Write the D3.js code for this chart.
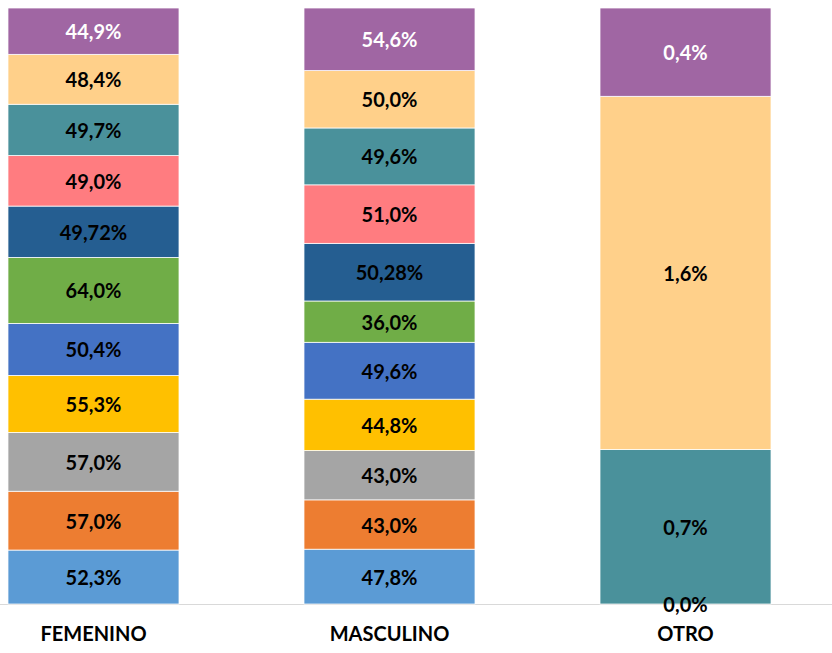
<!DOCTYPE html>
<html>
<head>
<meta charset="utf-8">
<script src="https://cdn.jsdelivr.net/npm/d3@7"></script>
<style>
  body { margin: 0; background: #fff; }
  #chart text { font-family: Lato, "Liberation Sans", sans-serif; font-weight: bold; }
</style>
</head>
<body>
<div id="chart"></div>
<script>
// Categories and series (bottom to top)
const categories = ["FEMENINO", "MASCULINO", "OTRO"];
const seriesNames = ["s1", "s2", "s3", "s4", "s5", "s6", "s7", "s8", "s9", "s10", "s11"];
const femenino = [52.3, 57.0, 57.0, 55.3, 50.4, 64.0, 49.72, 49.0, 49.7, 48.4, 44.9];
const masculino = [47.8, 43.0, 43.0, 44.8, 49.6, 36.0, 50.28, 51.0, 49.6, 50.0, 54.6];
const otro = [0.0, null, null, null, null, null, null, null, 0.7, 1.6, 0.4];
const labelText = [
  ["52,3%", "57,0%", "57,0%", "55,3%", "50,4%", "64,0%", "49,72%", "49,0%", "49,7%", "48,4%", "44,9%"],
  ["47,8%", "43,0%", "43,0%", "44,8%", "49,6%", "36,0%", "50,28%", "51,0%", "49,6%", "50,0%", "54,6%"],
  ["0,0%", null, null, null, null, null, null, null, "0,7%", "1,6%", "0,4%"]
];
const colors = ["#5B9BD5", "#ED7D31", "#A5A5A5", "#FFC000", "#4472C4", "#70AD47",
  "#255E91", "#FF7C80", "#4A919B", "#FFD08A", "#A066A3"];

const width = 832, height = 653;
const values = [femenino, masculino, otro];

// Build a table of normalized (100% stacked) rows
const table = categories.map((c, i) => {
  const row = { category: c };
  const total = d3.sum(values[i], v => v || 0);
  seriesNames.forEach((s, j) => { row[s] = (values[i][j] || 0) / total; });
  return row;
});

const stack = d3.stack().keys(seriesNames);
const layers = stack(table);

const x = d3.scaleBand()
  .domain(categories)
  .range([-54.5, 833.5])
  .paddingInner(0.4223)
  .paddingOuter(0.2111);

const y = d3.scaleLinear().domain([0, 1]).range([604, 8]);

const svg = d3.select("#chart").append("svg")
  .attr("width", width)
  .attr("height", height);

// Baseline
svg.append("line")
  .attr("x1", 0).attr("x2", width)
  .attr("y1", y(0) + 0.5).attr("y2", y(0) + 0.5)
  .style("stroke", "#d9d9d9")
  .style("stroke-width", 1);

// Segments
const g = svg.append("g");
layers.forEach((layer, j) => {
  g.selectAll(".seg-" + j)
    .data(layer)
    .enter()
    .append("rect")
    .attr("x", d => x(d.data.category))
    .attr("width", x.bandwidth())
    .attr("y", d => y(d[1]))
    .attr("height", d => y(d[0]) - y(d[1]))
    .style("fill", colors[j])
    .style("stroke", "#fff")
    .style("stroke-width", 0.75);
});

// Data labels
layers.forEach((layer, j) => {
  layer.forEach((d, i) => {
    const txt = labelText[i][j];
    if (txt == null) return;
    svg.append("text")
      .attr("x", x(d.data.category) + x.bandwidth() / 2)
      .attr("y", (y(d[0]) + y(d[1])) / 2 + 1)
      .attr("dy", "0.35em")
      .attr("text-anchor", "middle")
      .style("font-size", "20px")
      .style("fill", j === 10 ? "#fff" : "#000")
      .text(txt);
  });
});

// Category axis labels
svg.append("g")
  .attr("transform", `translate(0,${y(0)})`)
  .call(d3.axisBottom(x).tickSize(0).tickPadding(23))
  .call(a => a.select(".domain").remove())
  .selectAll("text")
  .style("font-size", "20px")
  .style("fill", "#000");
</script>
</body>
</html>
